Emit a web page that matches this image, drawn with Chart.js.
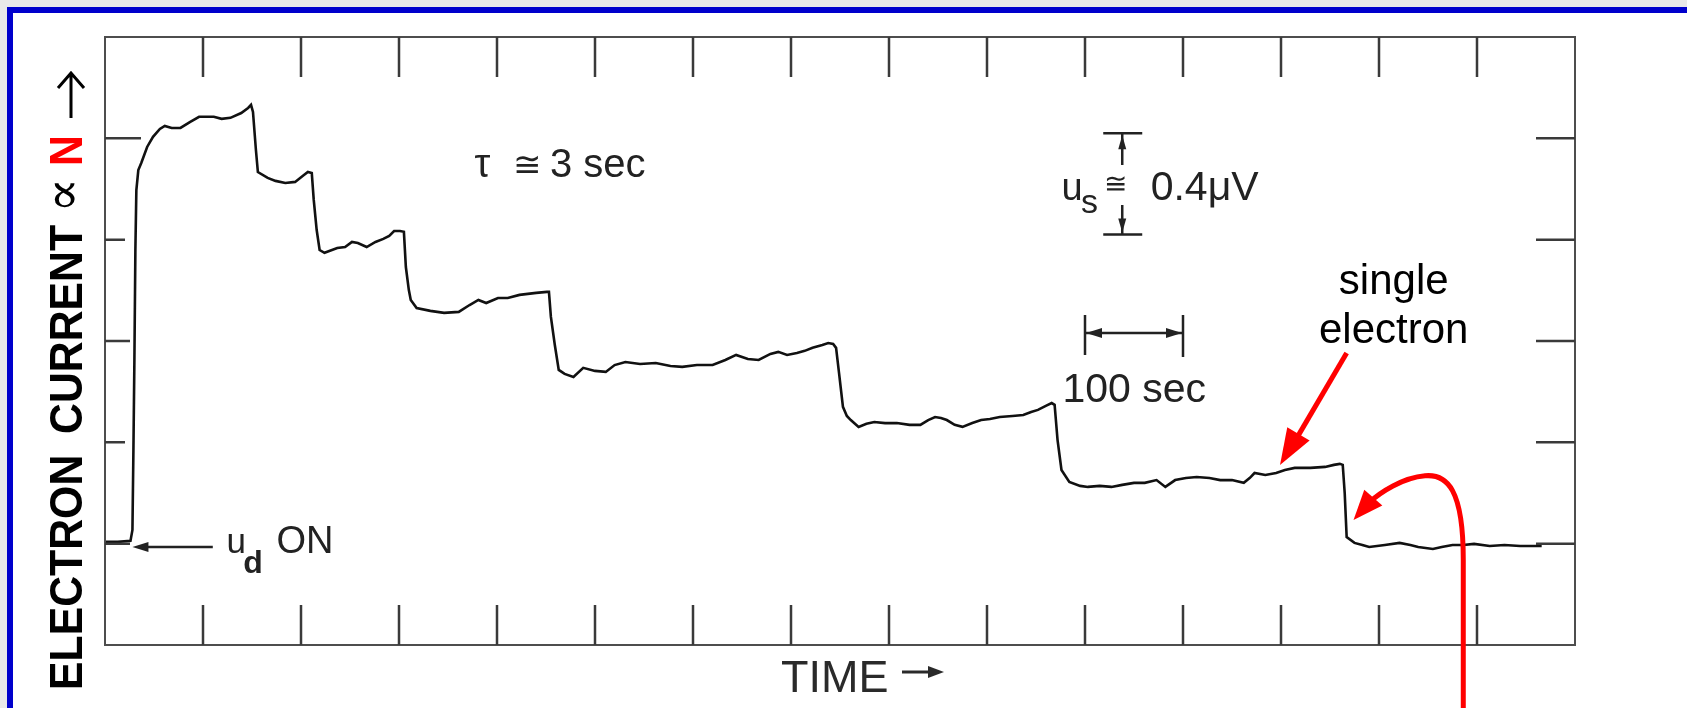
<!DOCTYPE html>
<html>
<head>
<meta charset="utf-8">
<script src="https://cdn.jsdelivr.net/npm/chart.js@4.4.1/dist/chart.umd.min.js"></script>
<style>
  html, body { margin: 0; padding: 0; background: #e9e9e9; overflow: hidden; }
  #slide { position: absolute; left: 7px; top: 7px; width: 1680px; height: 701px; background: #fff;
           border-left: 6px solid #0000cc; border-top: 6px solid #0000cc; box-sizing: border-box; }
  #wrap { position: absolute; left: 0; top: 0; width: 1687px; height: 708px; }
</style>
</head>
<body>
<div id="slide"></div>
<div id="wrap"><canvas id="chart"></canvas></div>
<script>
// time axis in seconds (one major division = 100 sec)
const timeSec = [
  0, 13, 26, 28, 29, 30, 31, 32, 34, 37,
  43, 49, 56, 61, 68, 77, 87, 96, 111, 119,
  128, 139, 146, 149, 151, 154, 156, 166, 174, 184,
  194, 202, 207, 211, 213, 216, 219, 224, 237, 245,
  252, 258, 267, 276, 284, 290, 295, 301, 305, 307,
  310, 312, 318, 332, 346, 361, 372, 381, 389, 401,
  411, 423, 440, 451, 453, 455, 459, 463, 469, 478,
  488, 500, 511, 520, 531, 546, 562, 577, 589, 604,
  620, 633, 644, 656, 667, 679, 687, 696, 706, 714,
  722, 732, 738, 743, 746, 749, 753, 757, 761, 769,
  777, 785, 796, 808, 821, 832, 840, 847, 853, 859,
  867, 875, 885, 894, 903, 913, 926, 937, 945, 952,
  960, 966, 969, 972, 976, 984, 995, 1003, 1015, 1027,
  1038, 1050, 1061, 1073, 1082, 1092, 1103, 1114, 1127, 1138,
  1150, 1162, 1168, 1173, 1184, 1195, 1204, 1214, 1230, 1245,
  1254, 1260, 1263, 1265, 1267, 1275, 1283, 1290, 1306, 1321,
  1332, 1340, 1355, 1364, 1375, 1386, 1397, 1413, 1428, 1444,
  1466
];

// detector signal in microvolts (one major division = 0.4 uV)
const currentUV = [
  0.407, 0.407, 0.411, 0.454, 0.770, 1.125, 1.559, 1.796, 1.875, 1.903,
  1.966, 2.006, 2.037, 2.049, 2.041, 2.041, 2.065, 2.085, 2.085, 2.077,
  2.081, 2.100, 2.120, 2.132, 2.104, 1.954, 1.867, 1.844, 1.832, 1.824,
  1.828, 1.852, 1.867, 1.863, 1.757, 1.638, 1.559, 1.548, 1.567, 1.571,
  1.591, 1.587, 1.571, 1.591, 1.603, 1.615, 1.634, 1.634, 1.631, 1.492,
  1.402, 1.362, 1.330, 1.319, 1.311, 1.315, 1.342, 1.362, 1.350, 1.370,
  1.370, 1.382, 1.390, 1.394, 1.394, 1.295, 1.184, 1.086, 1.070, 1.058,
  1.094, 1.082, 1.078, 1.105, 1.117, 1.109, 1.113, 1.101, 1.098, 1.105,
  1.105, 1.125, 1.145, 1.129, 1.125, 1.149, 1.157, 1.145, 1.153, 1.161,
  1.173, 1.184, 1.192, 1.188, 1.173, 1.074, 0.940, 0.904, 0.888, 0.861,
  0.873, 0.880, 0.876, 0.876, 0.869, 0.869, 0.888, 0.900, 0.896, 0.888,
  0.869, 0.861, 0.876, 0.888, 0.892, 0.900, 0.904, 0.908, 0.920, 0.928,
  0.944, 0.955, 0.948, 0.809, 0.691, 0.644, 0.628, 0.624, 0.628, 0.624,
  0.632, 0.640, 0.640, 0.651, 0.624, 0.651, 0.659, 0.663, 0.659, 0.651,
  0.651, 0.640, 0.659, 0.679, 0.671, 0.679, 0.691, 0.699, 0.699, 0.703,
  0.711, 0.715, 0.711, 0.600, 0.426, 0.403, 0.395, 0.387, 0.395, 0.403,
  0.395, 0.387, 0.379, 0.387, 0.395, 0.395, 0.399, 0.391, 0.395, 0.391,
  0.391
];

const xTickSec = [100, 200, 300, 400, 500, 600, 700, 800, 900, 1000, 1100, 1200, 1300, 1400];
const yTickUV = [0.4, 0.8, 1.2, 1.6, 2.0];

const SANS = '"Liberation Sans", Arial, sans-serif';
const INK = '#222';
const RED = '#ff0000';

function fillArrowHead(ctx, tipX, tipY, fromX, fromY, len, halfW) {
  const a = Math.atan2(tipY - fromY, tipX - fromX);
  const bx = tipX - len * Math.cos(a), by = tipY - len * Math.sin(a);
  ctx.beginPath();
  ctx.moveTo(tipX, tipY);
  ctx.lineTo(bx + halfW * Math.sin(a), by - halfW * Math.cos(a));
  ctx.lineTo(bx - halfW * Math.sin(a), by + halfW * Math.cos(a));
  ctx.closePath();
  ctx.fill();
}

function text(ctx, str, x, y, font, color, align) {
  ctx.font = font;
  ctx.fillStyle = color || INK;
  ctx.textAlign = align || 'left';
  ctx.textBaseline = 'alphabetic';
  ctx.fillText(str, x, y);
}

function rotText(ctx, str, x, y, font, color, squeeze) {
  ctx.save();
  ctx.translate(x, y);
  ctx.rotate(-Math.PI / 2);
  ctx.scale(squeeze, 1);
  ctx.font = font;
  ctx.fillStyle = color;
  ctx.textAlign = 'left';
  ctx.textBaseline = 'alphabetic';
  ctx.fillText(str, 0, 0);
  ctx.restore();
}

const annotations = {
  id: 'annotations',
  afterDatasetsDraw(chart) {
    const ctx = chart.ctx;
    const { left, right, top, bottom } = chart.chartArea;
    const X = v => chart.scales.x.getPixelForValue(v);
    const Y = v => chart.scales.y.getPixelForValue(v);
    ctx.save();

    // frame + inward ticks on all four sides
    ctx.strokeStyle = '#4d4d4d';
    ctx.lineWidth = 2;
    ctx.strokeRect(left, top, right - left, bottom - top);
    const leftLen = [25, 20, 25, 20, 36];
    ctx.strokeStyle = '#3a3a3a';
    ctx.lineWidth = 2.5;
    ctx.beginPath();
    xTickSec.forEach(t => {
      const x = X(t);
      ctx.moveTo(x, top); ctx.lineTo(x, top + 40);
      ctx.moveTo(x, bottom); ctx.lineTo(x, bottom - 40);
    });
    yTickUV.forEach((t, i) => {
      const y = Y(t);
      ctx.moveTo(left, y); ctx.lineTo(left + leftLen[i], y);
      ctx.moveTo(right, y); ctx.lineTo(right - 39, y);
    });
    ctx.stroke();

    // y axis label
    const bold = 'bold 46px ' + SANS;
    rotText(ctx, 'ELECTRON', 82, 690, bold, '#000', 0.93);
    rotText(ctx, 'CURRENT', 82, 434, bold, '#000', 0.93);
    rotText(ctx, '\u221D', 80, 213, '52px "DejaVu Serif", serif', '#000', 1);
    rotText(ctx, 'N', 82, 166, bold, RED, 0.93);
    ctx.strokeStyle = '#000';
    ctx.lineWidth = 3;
    ctx.beginPath();
    ctx.moveTo(71, 118); ctx.lineTo(71, 73);
    ctx.moveTo(58, 88); ctx.lineTo(71, 73); ctx.lineTo(84, 88);
    ctx.stroke();

    // x axis label
    text(ctx, 'TIME', 781, 692, '45px ' + SANS, '#2a2a2a');
    ctx.strokeStyle = '#2a2a2a';
    ctx.fillStyle = '#2a2a2a';
    ctx.lineWidth = 3;
    ctx.beginPath(); ctx.moveTo(902, 672); ctx.lineTo(932, 672); ctx.stroke();
    fillArrowHead(ctx, 944, 672, 902, 672, 16, 6);

    // time constant
    text(ctx, '\u03C4', X(377), Y(1.847), '40px ' + SANS);
    text(ctx, '\u2245', X(416), Y(1.85), '34px ' + SANS);
    text(ctx, '3 sec', X(454), Y(1.847), '40px ' + SANS);

    // u_d ON marker
    ctx.strokeStyle = INK; ctx.fillStyle = INK; ctx.lineWidth = 2.5;
    ctx.beginPath(); ctx.moveTo(X(110), Y(0.387)); ctx.lineTo(X(40), Y(0.387)); ctx.stroke();
    fillArrowHead(ctx, X(28), Y(0.387), X(110), Y(0.387), 16, 5);
    text(ctx, 'u', X(124), Y(0.363), '35px ' + SANS);
    text(ctx, 'd', X(141), Y(0.284), 'bold 32px ' + SANS);
    text(ctx, 'ON', X(175), Y(0.363), '38px ' + SANS);

    // vertical scale bar 0.4 uV
    const bx = X(1038);
    ctx.strokeStyle = INK; ctx.fillStyle = INK; ctx.lineWidth = 2.5;
    ctx.beginPath();
    ctx.moveTo(bx - 19, Y(2.02)); ctx.lineTo(bx + 20, Y(2.02));
    ctx.moveTo(bx, Y(2.02)); ctx.lineTo(bx, Y(1.895));
    ctx.moveTo(bx - 19, Y(1.62)); ctx.lineTo(bx + 20, Y(1.62));
    ctx.moveTo(bx, Y(1.62)); ctx.lineTo(bx, Y(1.737));
    ctx.stroke();
    fillArrowHead(ctx, bx, Y(2.02) + 2, bx, Y(1.895), 14, 4);
    fillArrowHead(ctx, bx, Y(1.62) - 2, bx, Y(1.737), 14, 4);
    text(ctx, 'u', X(976), Y(1.757), '38px ' + SANS);
    text(ctx, 's', X(996), Y(1.705), '34px ' + SANS);
    text(ctx, '\u2245', X(1019), Y(1.785), '28px ' + SANS);
    text(ctx, '0.4\u03BCV', X(1067), Y(1.757), '41px ' + SANS);

    // horizontal scale bar 100 sec
    const hy = Y(1.232);
    ctx.beginPath();
    ctx.moveTo(X(1000), hy - 18); ctx.lineTo(X(1000), hy + 22);
    ctx.moveTo(X(1100), hy - 18); ctx.lineTo(X(1100), hy + 24);
    ctx.moveTo(X(1000), hy); ctx.lineTo(X(1100), hy);
    ctx.stroke();
    fillArrowHead(ctx, X(1000) + 1, hy, X(1050), hy, 16, 5);
    fillArrowHead(ctx, X(1100) - 1, hy, X(1050), hy, 16, 5);
    text(ctx, '100 sec', X(977), Y(0.959), '41px ' + SANS);

    // single electron callout
    text(ctx, 'single', X(1315), Y(1.386), '42px ' + SANS, '#000', 'center');
    text(ctx, 'electron', X(1315), Y(1.192), '42px ' + SANS, '#000', 'center');
    ctx.strokeStyle = RED; ctx.fillStyle = RED; ctx.lineWidth = 5; ctx.lineCap = 'butt';
    ctx.beginPath();
    ctx.moveTo(X(1267), Y(1.153));
    ctx.lineTo(X(1212), Y(0.79));
    ctx.stroke();
    fillArrowHead(ctx, X(1199), Y(0.711), X(1267), Y(1.153), 36, 13);

    // curved arrow to the last step
    ctx.beginPath();
    ctx.moveTo(X(1386), Y(-0.26));
    ctx.lineTo(X(1386), Y(0.336));
    ctx.bezierCurveTo(X(1386), Y(0.612), X(1370), Y(0.676), X(1347), Y(0.668));
    ctx.bezierCurveTo(X(1324), Y(0.66), X(1302), Y(0.605), X(1289), Y(0.56));
    ctx.stroke();
    fillArrowHead(ctx, X(1274), Y(0.493), X(1296), Y(0.59), 30, 12);

    ctx.restore();
  }
};

new Chart(document.getElementById('chart'), {
  type: 'line',
  data: {
    datasets: [{
      label: 'electron current',
      data: timeSec.map((t, i) => ({ x: t, y: currentUV[i] })),
      borderColor: '#111',
      borderWidth: 2.6,
      pointRadius: 0,
      tension: 0,
      fill: false
    }]
  },
  options: {
    responsive: true,
    maintainAspectRatio: false,
    animation: false,
    layout: { padding: { left: 105, right: 112, top: 37, bottom: 63 } },
    plugins: {
      legend: { display: false },
      tooltip: { enabled: false }
    },
    scales: {
      x: {
        type: 'linear', min: 0, max: 1500,
        ticks: { display: false },
        grid: { display: false, drawTicks: false },
        border: { display: false }
      },
      y: {
        type: 'linear', min: 0, max: 2.4,
        ticks: { display: false },
        grid: { display: false, drawTicks: false },
        border: { display: false }
      }
    }
  },
  plugins: [annotations]
});
</script>
</body>
</html>
